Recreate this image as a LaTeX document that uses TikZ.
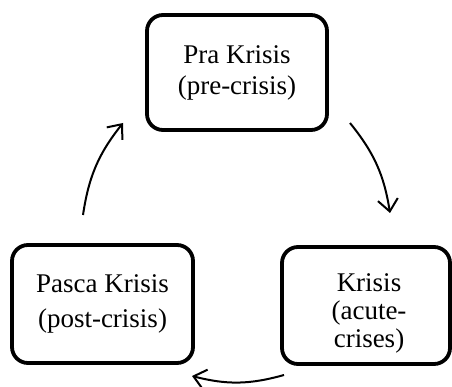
\documentclass[tikz,border=0pt]{standalone}
\usepackage{fontspec}
\setmainfont{Liberation Serif}
\usetikzlibrary{arrows.meta}
\begin{document}
\begin{tikzpicture}[x=1pt,y=-1pt,
  stage/.style={draw=black, line width=3.8pt, rounded corners=16pt, inner sep=0pt,
    align=center, font=\fontsize{27}{31}\selectfont, fill=white},
  stagetext/.style={inner sep=0pt, align=center},
  flow/.style={line width=2pt, -{Straight Barb[length=12pt,width=20pt,line width=2pt]}, bend left=15}
]
\useasboundingbox (0,0) rectangle (452,387);
\node[stage, minimum width=180pt, minimum height=115pt] (pre) at (237,72.5) {Pra Krisis\\(pre-crisis)};
\node[stage, minimum width=181pt, minimum height=118pt, font=\fontsize{27}{35}\selectfont] (post) at (102.5,304) {Pasca Krisis\\(post-crisis)};
\node[stage, minimum width=168pt, minimum height=117pt] (acute) at (366,305.5) {};
\node[stagetext, font=\fontsize{27}{28}\selectfont] (acutetext) at ([xshift=3pt,yshift=-8pt]acute.center) {Krisis\\(acute-\\crises)};
\coordinate (a1s) at (350,123);
\coordinate (a1e) at (390,213);
\coordinate (a2s) at (284,375);
\coordinate (a2e) at (192,376);
\coordinate (a3s) at (83,215);
\coordinate (a3e) at (123,123);
\draw[flow] (a1s) to (a1e);
\draw[flow] (a2s) to (a2e);
\draw[flow] (a3s) to (a3e);
\end{tikzpicture}
\end{document}
